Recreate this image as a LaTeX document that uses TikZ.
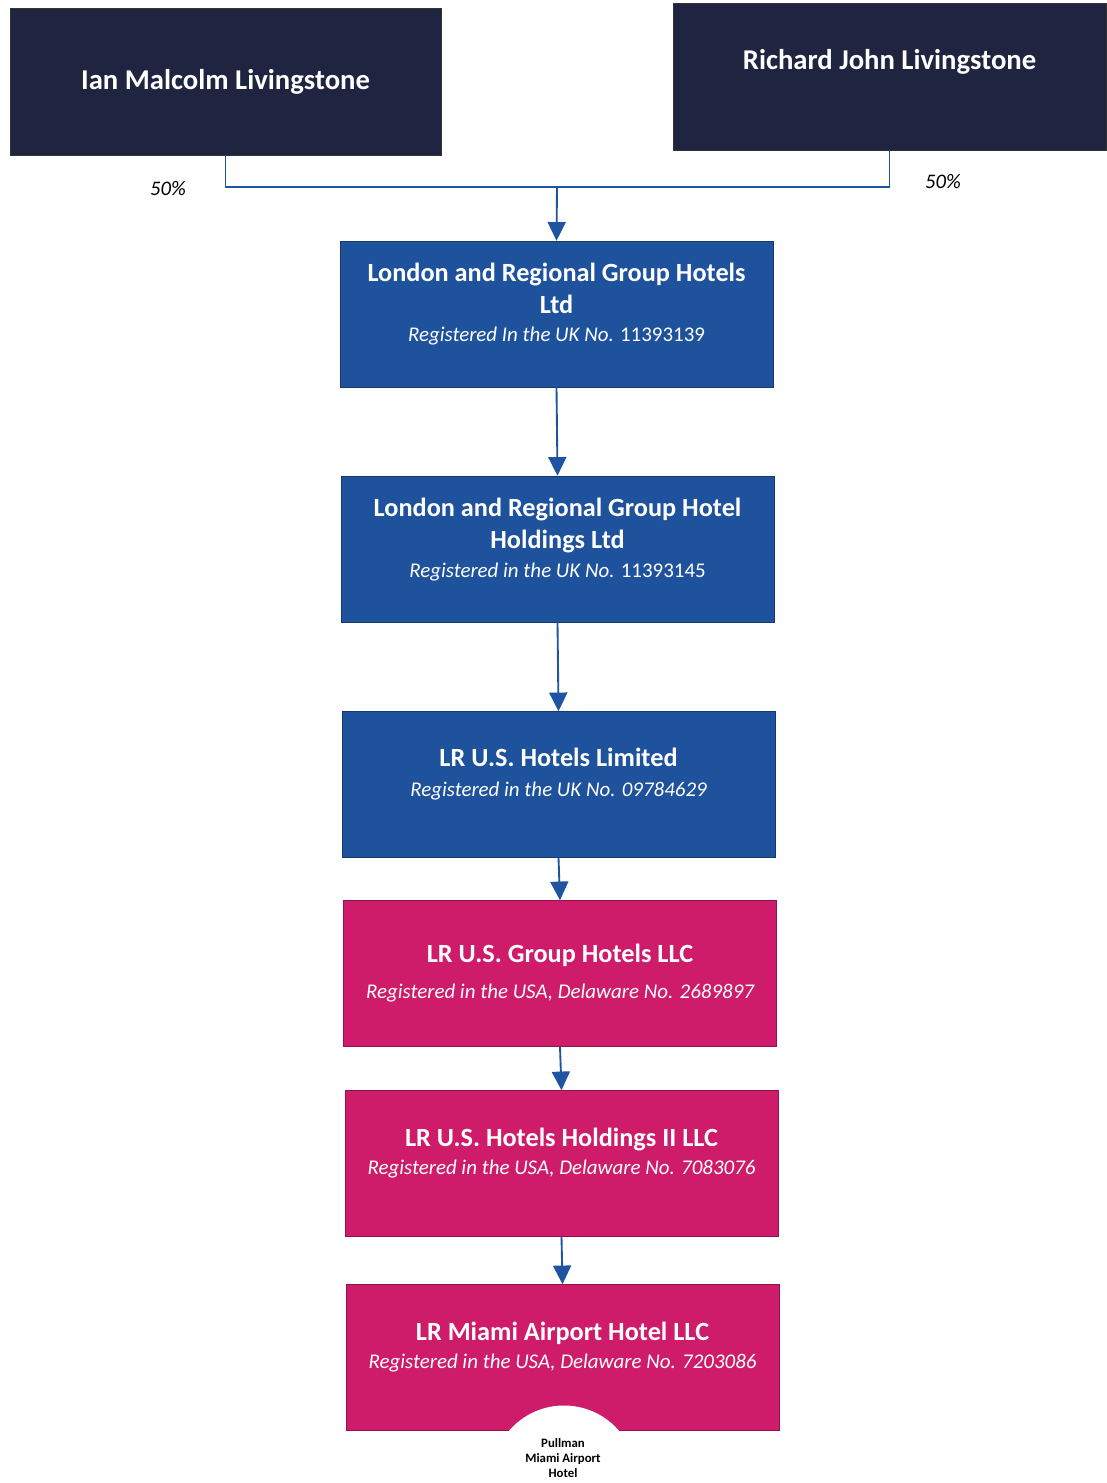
\documentclass[tikz,border=0pt]{standalone}
\usepackage{fontspec}
\setmainfont{Carlito}
\usetikzlibrary{arrows.meta}
\definecolor{ownernavy}{RGB}{31,36,64}
\definecolor{ukblue}{RGB}{30,82,156}
\definecolor{usapink}{RGB}{206,28,106}
\definecolor{linkblue}{RGB}{30,84,160}
\newcommand{\regfont}{\itshape\mdseries\fontsize{15.7}{21}\selectfont}

\begin{document}
\begin{tikzpicture}[x=0.75pt,y=-0.75pt,
  ownerbox/.style={draw=black!80,fill=ownernavy,text=white,align=center,minimum width=431*0.75pt,minimum height=147*0.75pt,font=\bfseries\fontsize{21.5}{26}\selectfont},
  entitybox/.style={draw=#1!70!black,fill=#1,text=white,minimum width=433*0.75pt,minimum height=146*0.75pt,align=center,font=\bfseries\fontsize{19.7}{24}\selectfont},
  link/.style={draw=linkblue,line width=1.4pt},
  arrowlink/.style={link,-{Triangle[width=13.5pt,length=14pt]}},
  share/.style={font=\itshape\fontsize{15.5}{18}\selectfont}]
\useasboundingbox (0,0) rectangle (1106,1483);
\fill[white] (0,0) rectangle (1106,1483);
% owners
\node[ownerbox] (ian) at (225.5,81.5) {Ian Malcolm Livingstone};
\node[ownerbox,minimum width=433*0.75pt] (richard) at (889.5,76.5) {Richard John Livingstone\\[-1pt]};
\coordinate (join) at (557,187);
\draw[link] (ian.south) |- (join) -| (richard.south);
\node[share] (ianshare) at (168,189) {50\%};
\node[share] (richardshare) at (943,182) {50\%};
% UK companies
\node[entitybox=ukblue] (grouphotels) at (556.5,314) {London and Regional Group Hotels\\Ltd\\[-3pt]{\regfont Registered In the UK No. \upshape 11393139}\\[-7pt]};
\node[entitybox=ukblue] (holdings) at (557.5,549) {London and Regional Group Hotel\\Holdings Ltd\\[-2pt]{\regfont Registered in the UK No. \upshape 11393145}\\[-7pt]};
\node[entitybox=ukblue] (ushotels) at (558.5,784.5) {LR U.S. Hotels Limited\\[-2pt]{\regfont Registered in the UK No. 09784629}\\[-5.5pt]};
% US companies
\node[entitybox=usapink] (usgroup) at (560,973.5) {LR U.S. Group Hotels LLC\\[3pt]{\regfont Registered in the USA, Delaware No. 2689897}};
\node[entitybox=usapink] (usholdings) at (561.5,1163.5) {LR U.S. Hotels Holdings II LLC\\[-3pt]{\regfont Registered in the USA, Delaware No. 7083076}\\[-6pt]};
\node[entitybox=usapink] (miami) at (562.5,1357.5) {LR Miami Airport Hotel LLC\\[-3pt]{\regfont Registered in the USA, Delaware No. 7203086}\\[-6pt]};
% hotel
\node[circle,fill=white,minimum size=145*0.75pt,inner sep=0pt] (hotel) at (564,1478) {};
\node[align=center,font=\bfseries\fontsize{9.6}{11.5}\selectfont] (hotelname) at (563,1458) {Pullman\\Miami Airport\\Hotel};
% ownership arrows
\draw[arrowlink] (join) -- (grouphotels.north);
\draw[arrowlink] (grouphotels.south) -- (holdings.north);
\draw[arrowlink] (holdings.south) -- (ushotels.north);
\draw[arrowlink] (ushotels.south) -- (usgroup.north);
\draw[arrowlink] (usgroup.south) -- (usholdings.north);
\draw[arrowlink] (usholdings.south) -- (miami.north);
\end{tikzpicture}
\end{document}
